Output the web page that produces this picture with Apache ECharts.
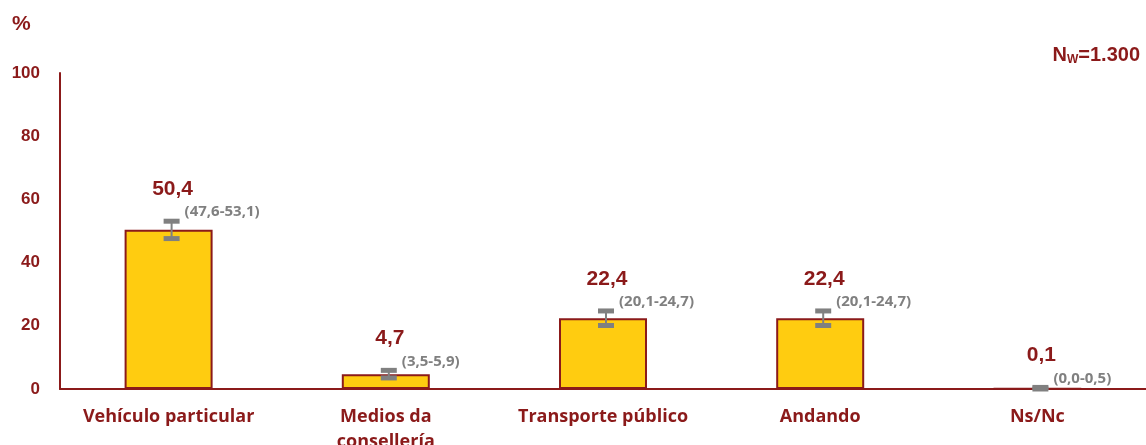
<!DOCTYPE html>
<html>
<head>
<meta charset="utf-8">
<script src="https://cdn.jsdelivr.net/npm/echarts@6/dist/echarts.min.js"></script>
<style>
  html, body { margin: 0; padding: 0; background: #fff; }
  #main { width: 1146px; height: 445px; }
</style>
</head>
<body>
<div id="main"></div>
<script>
// datos do gráfico
var categories = ['Vehículo particular', 'Medios da\nconsellería', 'Transporte público', 'Andando', 'Ns/Nc'];
var values = [50.4, 4.7, 22.4, 22.4, 0.1];
var lower = [47.6, 3.5, 20.1, 20.1, 0.0];
var upper = [53.1, 5.9, 24.7, 24.7, 0.5];
var valueLabels = ['50,4', '4,7', '22,4', '22,4', '0,1'];
var intervalLabels = ['(47,6-53,1)', '(3,5-5,9)', '(20,1-24,7)', '(20,1-24,7)', '(0,0-0,5)'];
var yTicks = [0, 20, 40, 60, 80, 100];

var red = '#8b1a1a';
var grey = '#808080';

var chart = echarts.init(document.getElementById('main'));

chart.setOption({
  animation: false,
  grid: { left: 60, right: 0, top: 73, bottom: 56, outerBoundsMode: 'none' },
  graphic: [
    {
      type: 'text', left: 12, top: 14,
      style: { text: '%', fill: red, font: 'bold 21px "Liberation Sans"' }
    },
    {
      type: 'text', right: 6, top: 45,
      style: {
        text: 'N{s|W}=1.300',
        fill: red,
        font: 'bold 20px "Liberation Sans"',
        rich: {
          s: { fill: red, fontSize: 12, fontWeight: 'bold', fontFamily: 'Liberation Sans', padding: [10, 0, 0, 0] }
        }
      }
    }
  ],
  xAxis: {
    type: 'category',
    data: categories,
    axisLine: { lineStyle: { color: red, width: 2 } },
    axisTick: { show: false },
    axisLabel: {
      interval: 0,
      hideOverlap: false,
      color: red,
      fontFamily: 'Open Sans',
      fontWeight: 'bold',
      fontSize: 18,
      lineHeight: 25,
      margin: 15
    }
  },
  yAxis: {
    type: 'value',
    min: 0,
    max: 100,
    interval: 20,
    splitLine: { show: false },
    axisTick: { show: false },
    axisLine: { show: true, lineStyle: { color: red, width: 2 } },
    axisLabel: {
      color: red,
      fontFamily: 'Liberation Sans',
      fontWeight: 'bold',
      fontSize: 17,
      margin: 20,
      formatter: function (v) { return yTicks.indexOf(v) >= 0 ? String(v) : ''; }
    }
  },
  series: [
    {
      type: 'bar',
      data: values,
      barWidth: 88,
      itemStyle: { color: '#ffcc10', borderColor: red, borderWidth: 2 }
    },
    {
      type: 'custom',
      data: values.map(function (v, i) { return [i, lower[i], upper[i]]; }),
      z: 5,
      renderItem: function (params, api) {
        var i = api.value(0);
        var lo = api.coord([i, api.value(1)]);
        var hi = api.coord([i, api.value(2)]);
        var x = lo[0] + 3;
        var capW = 16, capH = 5;
        return {
          type: 'group',
          children: [
            {
              type: 'line',
              shape: { x1: x, y1: lo[1], x2: x, y2: hi[1] },
              style: { stroke: grey, lineWidth: 2 }
            },
            {
              type: 'rect',
              shape: { x: x - capW / 2, y: hi[1] - capH / 2, width: capW, height: capH },
              style: { fill: grey }
            },
            {
              type: 'rect',
              shape: { x: x - capW / 2, y: lo[1] - capH / 2, width: capW, height: capH },
              style: { fill: grey }
            },
            {
              type: 'text',
              x: lo[0] + 16,
              y: hi[1] - 9,
              style: {
                text: intervalLabels[i],
                fill: grey,
                font: 'bold 15px "Open Sans"',
                verticalAlign: 'middle',
                align: 'left'
              }
            },
            {
              type: 'text',
              x: lo[0] + 4,
              y: hi[1] - 32,
              style: {
                text: valueLabels[i],
                fill: red,
                font: 'bold 21px "Liberation Sans"',
                verticalAlign: 'middle',
                align: 'center'
              }
            }
          ]
        };
      }
    }
  ]
});
</script>
</body>
</html>
